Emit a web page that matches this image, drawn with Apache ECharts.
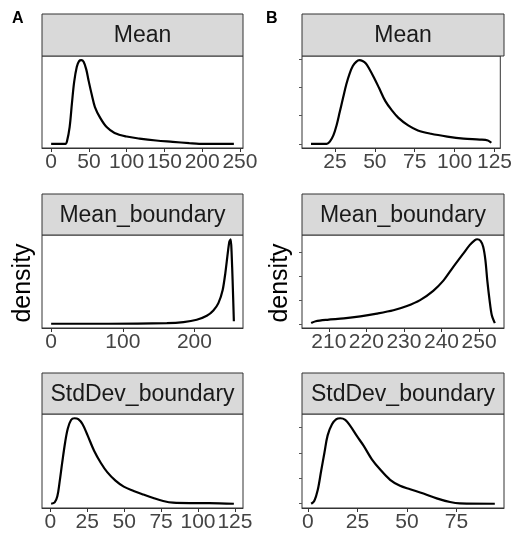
<!DOCTYPE html>
<html><head><meta charset="utf-8">
<script src="https://cdn.jsdelivr.net/npm/echarts@6/dist/echarts.min.js"></script>
<style>html,body{margin:0;padding:0;background:#fff}#c{width:515px;height:540px}</style>
</head><body><div id="c"></div>
<script>
// ---- data ----
const aMeanX = [0, 10, 19, 21, 24.5, 27.5, 30.5, 34, 37, 40, 43, 46.5, 49.5, 54, 58, 65, 73.5, 84, 100, 117, 139, 161, 183, 196, 242];
const aMeanY = [0, 0, 0, 0.03, 0.2, 0.48, 0.74, 0.92, 0.99, 1.0, 0.98, 0.89, 0.76, 0.58, 0.44, 0.31, 0.2, 0.13, 0.087, 0.063, 0.04, 0.024, 0.008, 0, 0];
const aBoundX = [0, 80, 161.5, 184.7, 203.2, 217.2, 226.4, 233.4, 239.4, 243.1, 246.4, 248.7, 250.6, 251.8, 253.3, 255];
const aBoundY = [0, 0, 0.008, 0.02, 0.047, 0.094, 0.157, 0.244, 0.4, 0.6, 0.83, 0.97, 1.0, 0.85, 0.5, 0.03];
const aStdX = [0.5, 2.9, 4.7, 6.2, 8, 10, 11.8, 14, 16.3, 18.9, 21.8, 25.2, 29.6, 34.1, 38.5, 44.1, 49.7, 56.4, 63.1, 69.7, 76.4, 83.1, 94.3, 107.6, 124.3];
const aStdY = [0, 0.016, 0.087, 0.25, 0.48, 0.72, 0.88, 0.98, 1.0, 0.99, 0.93, 0.8, 0.62, 0.48, 0.37, 0.27, 0.2, 0.15, 0.107, 0.067, 0.032, 0.012, 0.008, 0.008, 0];
const bMeanX = [10, 19.9, 21.9, 24, 26, 28, 30.1, 32.1, 34.2, 36.2, 38.3, 40.3, 42.3, 44.4, 46.4, 49.5, 52.6, 56.6, 60.7, 64.8, 70.9, 77, 85.2, 95.4, 105.6, 115.8, 120.9, 123];
const bMeanY = [0, 0, 0.03, 0.1, 0.22, 0.38, 0.55, 0.71, 0.84, 0.93, 0.98, 1.0, 0.99, 0.96, 0.9, 0.79, 0.67, 0.51, 0.4, 0.31, 0.22, 0.16, 0.12, 0.087, 0.063, 0.051, 0.04, 0.012];
const bBoundX = [205.3, 206.5, 209.6, 214, 218.4, 222.8, 227.2, 230.8, 234.3, 237.8, 240.5, 243.1, 245.8, 247.5, 248.9, 249.5, 250.4, 251.1, 251.7, 252.2, 252.8, 253.4, 254.2];
const bBoundY = [0.008, 0.03, 0.047, 0.063, 0.087, 0.12, 0.16, 0.21, 0.28, 0.39, 0.51, 0.67, 0.83, 0.93, 0.99, 1.0, 0.98, 0.91, 0.75, 0.51, 0.28, 0.1, 0.008];
const bStdX = [1.7, 3.3, 5, 6.7, 8.4, 10, 12.2, 14.4, 16.4, 18.9, 21.4, 24.8, 28.1, 32.3, 36.5, 41.5, 46.5, 51.6, 58.3, 65, 71.7, 76.7, 94.3];
const bStdY = [0, 0.035, 0.16, 0.38, 0.6, 0.8, 0.93, 0.99, 1.0, 0.98, 0.91, 0.79, 0.68, 0.52, 0.4, 0.28, 0.21, 0.17, 0.12, 0.063, 0.02, 0.004, 0];

const aMeanTicks = [0, 50, 100, 150, 200, 250];
const aBoundTicks = [0, 100, 200];
const aStdTicks = [0, 25, 50, 75, 100, 125];
const bMeanTicks = [25, 50, 75, 100, 125];
const bBoundTicks = [210, 220, 230, 240, 250];
const bStdTicks = [0, 25, 50, 75];
const bMeanYTicks = [0, 0.336, 0.672, 1.008];
const bBoundYTicks = [0, 0.284, 0.567, 0.851];
const bStdYTicks = [0, 0.297, 0.593, 0.89];

const panelTitles = ['Mean', 'Mean_boundary', 'StdDev_boundary'];
const columnLabels = ['A', 'B'];
const yTitle = 'density';

// ---- layout ----
const colLeft = [42, 302], colWidth = [201, 202];
const stripTop = [14, 194, 373], plotTop = [56, 235, 414], plotH = [92, 93, 94];
const FONT = '"Liberation Sans", Arial, sans-serif';

const panels = [
  {c:0, r:0, x:aMeanX, y:aMeanY, t:aMeanTicks, yt:null, s:0.35},
  {c:0, r:1, x:aBoundX, y:aBoundY, t:aBoundTicks, yt:null, s:0.25},
  {c:0, r:2, x:aStdX, y:aStdY, t:aStdTicks, yt:null, s:0.35},
  {c:1, r:0, x:bMeanX, y:bMeanY, t:bMeanTicks, yt:bMeanYTicks, s:0.35},
  {c:1, r:1, x:bBoundX, y:bBoundY, t:bBoundTicks, yt:bBoundYTicks, s:0.3},
  {c:1, r:2, x:bStdX, y:bStdY, t:bStdTicks, yt:bStdYTicks, s:0.35}
];

const grid = [], xAxis = [], yAxis = [], series = [], graphic = [];
panels.forEach((p, i) => {
  const lo = Math.min(...p.x), hi = Math.max(...p.x), pad = 0.05 * (hi - lo);
  grid.push({left: colLeft[p.c], top: plotTop[p.r], width: colWidth[p.c], height: plotH[p.r],
    show: true, borderColor: '#333', borderWidth: 1, backgroundColor: '#fff'});
  xAxis.push({type: 'value', gridIndex: i, min: lo - pad, max: hi + pad,
    splitLine: {show: false},
    axisLine: {show: true, onZero: false, lineStyle: {color: '#333', width: 1}},
    axisTick: {show: true, length: 4, customValues: p.t, lineStyle: {color: '#333'}},
    axisLabel: {customValues: p.t, color: '#444', fontSize: 21, fontFamily: FONT, margin: 4}});
  yAxis.push({type: 'value', gridIndex: i, min: -0.05, max: 1.05,
    splitLine: {show: false}, axisLine: {show: false, onZero: false},
    axisTick: p.yt ? {show: true, length: 3, customValues: p.yt, lineStyle: {color: '#555'}} : {show: false},
    axisLabel: {show: false}});
  series.push({type: 'line', xAxisIndex: i, yAxisIndex: i, showSymbol: false, smooth: p.s,
    data: p.x.map((v, k) => [v, p.y[k]]),
    lineStyle: {color: '#000', width: 2.2}});
  graphic.push({type: 'rect', shape: {x: colLeft[p.c], y: stripTop[p.r], width: colWidth[p.c], height: plotTop[p.r] - stripTop[p.r]},
    style: {fill: '#d9d9d9', stroke: '#333', lineWidth: 1}});
  graphic.push({type: 'text', x: colLeft[p.c] + colWidth[p.c] / 2, y: (stripTop[p.r] + plotTop[p.r]) / 2 + 1,
    style: {text: panelTitles[p.r], align: 'center', verticalAlign: 'middle', fontSize: 23, fontFamily: FONT, fill: '#1a1a1a'}});
});
graphic.push({type: 'text', x: 12, y: 19, style: {text: columnLabels[0], align: 'left', verticalAlign: 'middle', fontSize: 16, fontWeight: 'bold', fontFamily: FONT, fill: '#000'}});
graphic.push({type: 'text', x: 266, y: 19, style: {text: columnLabels[1], align: 'left', verticalAlign: 'middle', fontSize: 16, fontWeight: 'bold', fontFamily: FONT, fill: '#000'}});
graphic.push({type: 'text', x: 23, y: 283, rotation: Math.PI / 2, style: {text: yTitle, align: 'center', verticalAlign: 'middle', fontSize: 25, fontFamily: FONT, fill: '#000'}});
graphic.push({type: 'text', x: 280, y: 283, rotation: Math.PI / 2, style: {text: yTitle, align: 'center', verticalAlign: 'middle', fontSize: 25, fontFamily: FONT, fill: '#000'}});

const chart = echarts.init(document.getElementById('c'), null, {renderer: 'canvas'});
chart.setOption({animation: false, backgroundColor: '#fff', grid, xAxis, yAxis, series, graphic});
</script></body></html>
